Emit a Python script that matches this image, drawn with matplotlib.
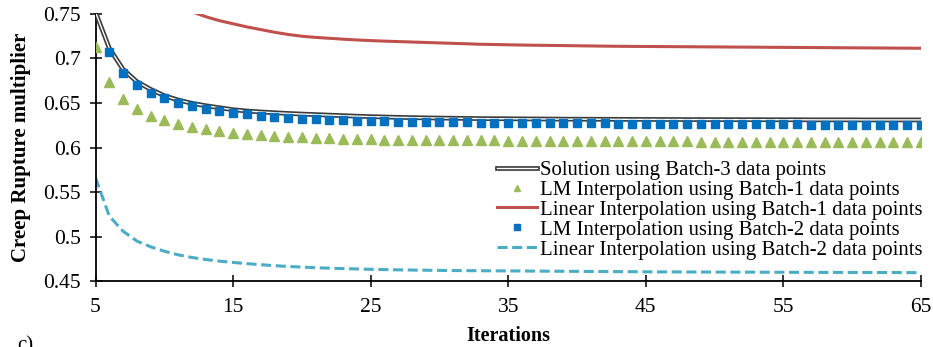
import numpy as np
import matplotlib
matplotlib.use("Agg")
import matplotlib.pyplot as plt
import matplotlib.patheffects as pe

plt.rcParams['font.family'] = ['Liberation Serif', 'DejaVu Serif']

# Iteration numbers
iters = list(range(5, 66))

# Solution using Batch-3 data points
solution_b3 = [0.752, 0.7115, 0.6878, 0.674, 0.6654, 0.6582, 0.6534, 0.6497, 0.647, 0.6447,
               0.6425, 0.641, 0.64, 0.6391, 0.6383, 0.6376, 0.637, 0.6364, 0.6358, 0.6352,
               0.6347,
               0.6343, 0.6339, 0.6336, 0.6333, 0.6331, 0.6329, 0.6327, 0.6325, 0.6324, 0.6323,
               0.6322, 0.6321, 0.6320, 0.6319, 0.6318, 0.6318, 0.6317, 0.6317, 0.6316, 0.6316,
               0.6315, 0.6315, 0.6314, 0.6314, 0.6314, 0.6313, 0.6313, 0.6313, 0.6312, 0.6312,
               0.6312, 0.6311, 0.6311, 0.6311, 0.6311, 0.6310, 0.6310, 0.6310, 0.6310, 0.6310]

# LM interpolation, Batch-1
lm_b1 = [0.7133, 0.674, 0.654, 0.6433, 0.6354, 0.6305, 0.6264, 0.6227, 0.6204, 0.6185,
         0.6163, 0.6155, 0.614, 0.6133, 0.6122, 0.6118, 0.6107, 0.6104, 0.610, 0.6097,
         0.6092,
         0.6090, 0.6088, 0.6086, 0.6085, 0.6083, 0.6082, 0.6081, 0.6080, 0.6079, 0.6078,
         0.6077, 0.6076, 0.6075, 0.6074, 0.6073, 0.6073, 0.6072, 0.6071, 0.6070, 0.6070,
         0.6069, 0.6068, 0.6068, 0.6067, 0.6066, 0.6066, 0.6065, 0.6065, 0.6064, 0.6064,
         0.6063, 0.6063, 0.6062, 0.6062, 0.6061, 0.6061, 0.6061, 0.6060, 0.6060, 0.6060]

# Linear interpolation, Batch-1 (enters the plotted range at iteration 12)
lin_b1_iters = list(range(12, 66))
lin_b1 = [0.7525, 0.747, 0.7425, 0.739, 0.7355, 0.7325, 0.7295, 0.727, 0.725, 0.7237,
          0.7227, 0.7217, 0.7208, 0.7201, 0.7195, 0.719, 0.7185, 0.718, 0.7175, 0.717,
          0.7165, 0.716, 0.7157, 0.7154, 0.7151, 0.7149, 0.7147, 0.7145, 0.7143, 0.7141,
          0.7139, 0.7137, 0.7136, 0.7135, 0.7134, 0.7133, 0.7132, 0.7131, 0.713,
          0.7129, 0.7128, 0.7127, 0.7126, 0.7125, 0.7124, 0.7123, 0.7122, 0.7121, 0.712,
          0.7119, 0.7118, 0.7117, 0.7116, 0.7115]

# LM interpolation, Batch-2 (from iteration 6)
lm_b2_iters = list(range(6, 66))
lm_b2 = [0.7077, 0.6841, 0.6702, 0.6616, 0.6552, 0.6504, 0.6463, 0.6436, 0.641, 0.6384,
         0.6373, 0.6358, 0.6346, 0.6331, 0.6324, 0.6316, 0.6309, 0.6305, 0.6301, 0.6297,
         0.6294, 0.6291, 0.6289, 0.6287, 0.6285, 0.6283, 0.6282, 0.6280, 0.6279, 0.6277,
         0.6276, 0.6275, 0.6274, 0.6273, 0.6272, 0.6271, 0.6270, 0.6269, 0.6268, 0.6267,
         0.6266, 0.6265, 0.6265, 0.6264, 0.6263, 0.6262, 0.6262, 0.6261, 0.6260, 0.6260,
         0.6259, 0.6258, 0.6258, 0.6257, 0.6257, 0.6256, 0.6256, 0.6255, 0.6255, 0.6254]

# Linear interpolation, Batch-2
lin_b2 = [0.566, 0.523, 0.506, 0.495, 0.4885, 0.4835, 0.4795, 0.4765, 0.4742, 0.4724,
          0.4709, 0.4696, 0.4684, 0.4673, 0.4664, 0.4657, 0.465, 0.4645, 0.464, 0.4636,
          0.4632,
          0.4629, 0.4626, 0.4624, 0.4622, 0.4620, 0.4618, 0.4617, 0.4616, 0.4615, 0.4614,
          0.4613, 0.4612, 0.4611, 0.4610, 0.4609, 0.4608, 0.4607, 0.4606, 0.4605, 0.4604,
          0.4603, 0.4603, 0.4602, 0.4602, 0.4601, 0.4601, 0.4600, 0.4600, 0.4599, 0.4599,
          0.4598, 0.4598, 0.4597, 0.4597, 0.4597, 0.4596, 0.4596, 0.4596, 0.4595, 0.4595]

x_ticks = [5, 15, 25, 35, 45, 55, 65]
y_ticks = [0.45, 0.5, 0.55, 0.6, 0.65, 0.7, 0.75]
y_tick_labels = ['0.45', '0.5', '0.55', '0.6', '0.65', '0.7', '0.75']

fig = plt.figure(figsize=(9.33, 3.47), dpi=100)
ax = fig.add_axes([0.1024, 0.19, 0.8847, 0.7697])

ax.plot(iters, solution_b3, color='white', lw=1.0, zorder=3,
        path_effects=[pe.Stroke(linewidth=3.4, foreground='#3a3a3a'), pe.Normal()],
        label='Solution using Batch-3 data points')
ax.plot(iters, lm_b1, ls='none', marker='^', ms=6.5, color='#9BBB59', mec='#9BBB59',
        zorder=4, label='LM Interpolation using Batch-1 data points')
ax.plot(lin_b1_iters, lin_b1, color='#C0504D', lw=2.2, zorder=2,
        label='Linear Interpolation using Batch-1 data points')
ax.plot(lm_b2_iters, lm_b2, ls='none', marker='s', ms=6.2, color='#0070C0', mec='#0070C0',
        zorder=5, label='LM Interpolation using Batch-2 data points')
ax.plot(iters, lin_b2, color='#4BACC6', lw=2.2, dashes=(3.3, 1.5), zorder=2,
        label='Linear Interpolation using Batch-2 data points')

ax.set_xlim(5, 65)
ax.set_ylim(0.45, 0.75)
ax.set_xticks(x_ticks)
ax.set_xticklabels([str(v) for v in x_ticks])
ax.set_yticks(y_ticks)
ax.set_yticklabels(y_tick_labels)
ax.tick_params(axis='both', direction='inout', length=9, width=1.1, labelsize=15.5,
               colors='black', pad=6)
ax.tick_params(axis='x', pad=8)
for side in ('top', 'right'):
    ax.spines[side].set_visible(False)
for side in ('left', 'bottom'):
    ax.spines[side].set_linewidth(1.3)

ax.set_xlabel('Iterations', fontsize=14.5, fontweight='bold', labelpad=6)
ax.set_ylabel('Creep Rupture multiplier', fontsize=15, fontweight='bold', labelpad=9)

leg = ax.legend(loc='upper left', bbox_to_anchor=(0.5327, 0.538), bbox_transform=fig.transFigure,
                frameon=False, fontsize=14.95, handlelength=1.92, handletextpad=0.14,
                labelspacing=0.02, borderpad=0, borderaxespad=0, markerscale=0.6)

fig.text(17 / 933, 1 - 336 / 347, 'c)', fontsize=15, va='top', ha='left')

fig.savefig('out.png', dpi=100)
